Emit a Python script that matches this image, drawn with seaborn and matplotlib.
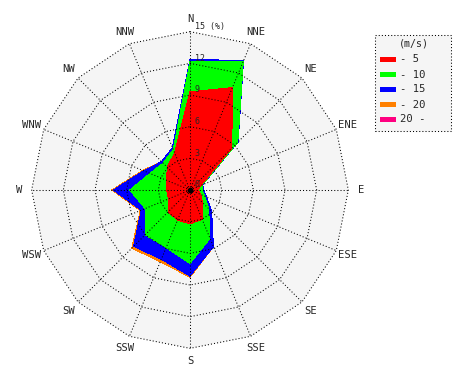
import matplotlib
matplotlib.use("Agg")
import matplotlib.pyplot as plt
import numpy as np
import seaborn as sns
from matplotlib.patches import Polygon, Rectangle

# 16 compass directions, clockwise from N
directions = ["N", "NNE", "NE", "ENE", "E", "ESE", "SE", "SSE",
              "S", "SSW", "SW", "WSW", "W", "WNW", "NW", "NNW"]

# frequency (%) per wind speed class, per direction
speed_0_5 = [9.3, 10.5, 5.6, 1.1, 0.8, 1.1, 1.65, 3.0,
             3.2, 3.1, 2.9, 2.2, 2.2, 2.4, 3.05, 3.8]
speed_5_10 = [2.85, 2.7, 0.8, 0.15, 0.35, 0.4, 0.85, 1.95,
              3.75, 2.8, 3.1, 2.4, 3.5, 1.7, 0.55, 0.35]
speed_10_15 = [0.25, 0.05, 0.05, 0.05, 0.15, 0.2, 0.4, 0.85,
               1.2, 1.2, 1.55, 0.4, 1.55, 0.65, 0.2, 0.2]
speed_15_20 = [0, 0, 0, 0, 0, 0, 0, 0,
               0.12, 0.25, 0.25, 0.1, 0.15, 0.1, 0, 0]
speed_20_up = [0] * 16

speed_labels = ["- 5", "- 10", "- 15", "- 20", "20 -"]
speed_colors = ["#ff0000", "#00ff00", "#0000ff", "#ff8000", "#ff0080"]
ring_ticks = [3, 6, 9, 12, 15]

sns.set_style("white")
plt.rcParams["font.family"] = ["DejaVu Sans Mono"]

PX = 10.556  # pixels per percent
fig = plt.figure(figsize=(4.7, 3.8), dpi=100)
ax = fig.add_axes([0, 0, 1, 1])
ax.set_xlim(-190 / PX, 280 / PX)
ax.set_ylim(-190 / PX, 190 / PX)
ax.set_aspect("equal")
ax.axis("off")

theta = np.deg2rad(np.arange(16) * 22.5)


def to_xy(r):
    r = np.asarray(r, dtype=float)
    return np.column_stack([r * np.sin(theta), r * np.cos(theta)])


# plot background
ax.add_patch(Polygon(to_xy(np.full(16, 15.0)), closed=True,
                     facecolor="#f5f5f5", edgecolor="none", zorder=0))

# stacked radar fills, outermost first
classes = [speed_0_5, speed_5_10, speed_10_15, speed_15_20, speed_20_up]
cum = np.cumsum(np.array(classes, dtype=float), axis=0)
for i in range(len(classes) - 1, -1, -1):
    ax.add_patch(Polygon(to_xy(cum[i]), closed=True, facecolor=speed_colors[i],
                         edgecolor="none", antialiased=False, zorder=1 + (4 - i)))

# dotted polygon grid
dot = (0, (1, 2))
for t in ring_ticks:
    pts = to_xy(np.full(16, float(t)))
    pts = np.vstack([pts, pts[:1]])
    ax.plot(pts[:, 0], pts[:, 1], color="black", lw=0.75, ls=dot, zorder=10)
outer = to_xy(np.full(16, 15.0))
for x, y in outer:
    ax.plot([0, x], [0, y], color="black", lw=0.75, ls=dot, zorder=10)
ax.plot(0, 0, "o", color="black", ms=3, zorder=11)

# direction labels
for lab, (x, y) in zip(directions, to_xy(np.full(16, 16.2))):
    ax.text(x, y, lab, ha="center", va="center", fontsize=7.6, zorder=12)

# ring labels
ax.text(0.45, 0.1, "0", fontsize=6, ha="left", va="bottom", zorder=12)
for t in ring_ticks:
    lab = f"{t} (%)" if t == 15 else str(t)
    ax.text(0.45, t + 0.05, lab, fontsize=6, ha="left", va="bottom", zorder=12)

# legend box
lx0, lx1 = (375 - 190) / PX, (451 - 190) / PX
ly0, ly1 = (190 - 131) / PX, (190 - 35) / PX
ax.add_patch(Rectangle((lx0, ly0), lx1 - lx0, ly1 - ly0, facecolor="#f5f5f5",
                       edgecolor="black", lw=0.75, ls=dot, zorder=12))
ax.text((414 - 190) / PX, (190 - 43.5) / PX, "(m/s)", fontsize=7.2,
        ha="center", va="center", zorder=13)
for i, (lab, col) in enumerate(zip(speed_labels, speed_colors)):
    yc = (190 - (59.5 + 15 * i)) / PX
    ax.add_patch(Rectangle(((380 - 190) / PX, yc - 0.24), 16 / PX, 0.48,
                           facecolor=col, edgecolor="none", zorder=13))
    ax.text((400 - 190) / PX, yc, lab, fontsize=7.6, ha="left", va="center", zorder=13)

fig.savefig("out.png", dpi=100)
